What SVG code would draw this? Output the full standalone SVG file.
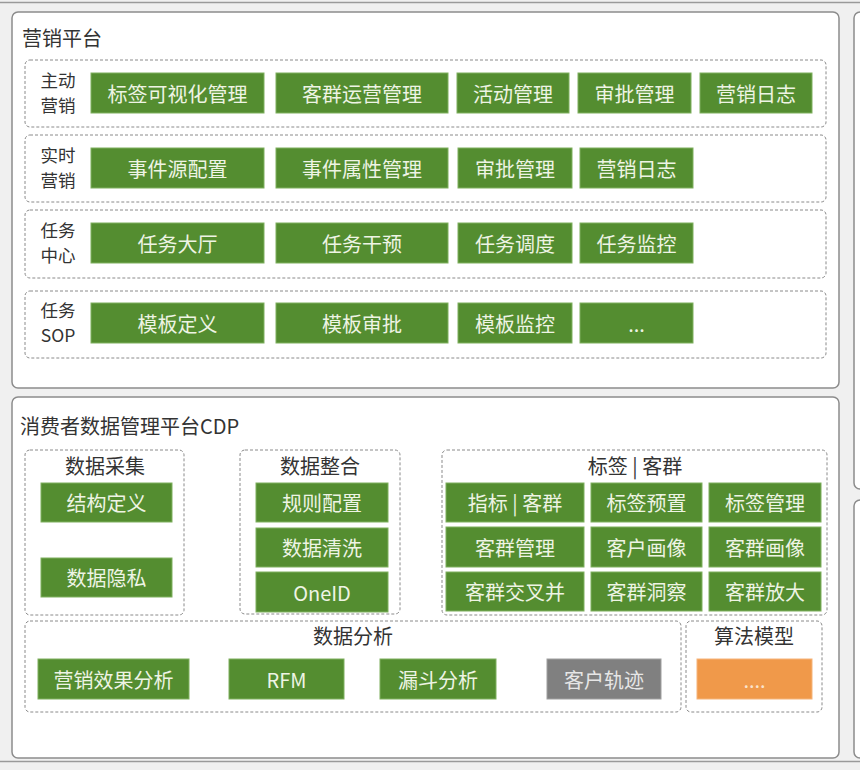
<svg xmlns="http://www.w3.org/2000/svg" width="860" height="770" viewBox="0 0 860 770">
<defs>
<style>
text{font-family:"Microsoft YaHei","Noto Sans CJK SC","Noto Sans",sans-serif;}
.panel{fill:#fff;stroke:#8c8c8c;stroke-width:1.5;}
.dash{fill:#fff;stroke:#8a8a8a;stroke-width:1;stroke-dasharray:3 2;}
.g{fill:#548d30;stroke:#7fb05e;stroke-width:1;}
.gr{fill:#808080;stroke:#a0a0a0;stroke-width:1;}
.or{fill:#f0994a;stroke:#f5b47a;stroke-width:1;}
.bt{fill:#eef4e4;font-size:20px;text-anchor:middle;dominant-baseline:central;}
.lb{fill:#333;font-size:20px;text-anchor:middle;dominant-baseline:central;}
.rl{fill:#333;font-size:17.5px;text-anchor:middle;}
.tt{fill:#333;font-size:20px;dominant-baseline:central;}
</style>
</defs>
<rect x="0" y="0" width="860" height="770" fill="#f0f0f0"/>
<line x1="0" y1="2.5" x2="860" y2="2.5" stroke="#9a9a9a" stroke-width="1.5"/>
<line x1="0" y1="761.5" x2="860" y2="761.5" stroke="#9a9a9a" stroke-width="1.5"/>
<rect class="panel" x="854" y="12" width="20" height="477" rx="6"/>
<rect class="panel" x="854" y="500" width="20" height="258" rx="6"/>

<g id="marketing-platform">
<rect class="panel" x="12" y="12" width="827" height="376" rx="6"/>
<text class="tt" x="22" y="37">营销平台</text>
</g>

<g id="row-active">
<rect class="dash" x="25" y="60" width="801" height="67" rx="5"/>
<text class="rl" x="58" y="86.5">主动<tspan x="58" dy="25.5">营销</tspan></text>
</g>
<g id="n-tag-vis"><rect class="g" x="91" y="73" width="173" height="40"/><text class="bt" x="177.5" y="93">标签可视化管理</text></g>
<g id="n-group-ops"><rect class="g" x="276" y="73" width="172" height="40"/><text class="bt" x="362" y="93">客群运营管理</text></g>
<g id="n-activity"><rect class="g" x="457" y="73" width="112" height="40"/><text class="bt" x="513" y="93">活动管理</text></g>
<g id="n-approve1"><rect class="g" x="578" y="73" width="113" height="40"/><text class="bt" x="634.5" y="93">审批管理</text></g>
<g id="n-log1"><rect class="g" x="700" y="73" width="112" height="40"/><text class="bt" x="756" y="93">营销日志</text></g>

<g id="row-realtime">
<rect class="dash" x="25" y="135" width="801" height="67" rx="5"/>
<text class="rl" x="58" y="161.5">实时<tspan x="58" dy="25.5">营销</tspan></text>
</g>
<g id="n-event-src"><rect class="g" x="91" y="148" width="173" height="40"/><text class="bt" x="177.5" y="168">事件源配置</text></g>
<g id="n-event-attr"><rect class="g" x="276" y="148" width="172" height="40"/><text class="bt" x="362" y="168">事件属性管理</text></g>
<g id="n-approve2"><rect class="g" x="458" y="148" width="114" height="40"/><text class="bt" x="515" y="168">审批管理</text></g>
<g id="n-log2"><rect class="g" x="580" y="148" width="113" height="40"/><text class="bt" x="636.5" y="168">营销日志</text></g>

<g id="row-task">
<rect class="dash" x="25" y="210" width="801" height="68" rx="5"/>
<text class="rl" x="58" y="236.5">任务<tspan x="58" dy="25.5">中心</tspan></text>
</g>
<g id="n-task-hall"><rect class="g" x="91" y="223" width="173" height="40"/><text class="bt" x="177.5" y="243">任务大厅</text></g>
<g id="n-task-intervene"><rect class="g" x="276" y="223" width="172" height="40"/><text class="bt" x="362" y="243">任务干预</text></g>
<g id="n-task-sched"><rect class="g" x="458" y="223" width="114" height="40"/><text class="bt" x="515" y="243">任务调度</text></g>
<g id="n-task-mon"><rect class="g" x="580" y="223" width="113" height="40"/><text class="bt" x="636.5" y="243">任务监控</text></g>

<g id="row-sop">
<rect class="dash" x="25" y="291" width="801" height="67" rx="5"/>
<text class="rl" x="58" y="316.5">任务<tspan x="58" dy="25.5">SOP</tspan></text>
</g>
<g id="n-tpl-def"><rect class="g" x="91" y="303" width="173" height="40"/><text class="bt" x="177.5" y="323">模板定义</text></g>
<g id="n-tpl-approve"><rect class="g" x="276" y="303" width="172" height="40"/><text class="bt" x="362" y="323">模板审批</text></g>
<g id="n-tpl-mon"><rect class="g" x="458" y="303" width="114" height="40"/><text class="bt" x="515" y="323">模板监控</text></g>
<g id="n-tpl-more"><rect class="g" x="580" y="303" width="113" height="40"/><text class="bt" x="636.5" y="323">...</text></g>

<g id="cdp-platform">
<rect class="panel" x="12" y="397" width="827" height="361" rx="6"/>
<text class="tt" x="20" y="425">消费者数据管理平台CDP</text>
</g>

<g id="grp-collect">
<rect class="dash" x="25" y="450" width="159" height="165" rx="5"/>
<text class="lb" x="105" y="465">数据采集</text>
</g>
<g id="n-struct"><rect class="g" x="41" y="483" width="131" height="39"/><text class="bt" x="106.5" y="502.5">结构定义</text></g>
<g id="n-privacy"><rect class="g" x="41" y="558" width="131" height="39"/><text class="bt" x="106.5" y="577.5">数据隐私</text></g>

<g id="grp-integrate">
<rect class="dash" x="240" y="450" width="160" height="164" rx="5"/>
<text class="lb" x="320" y="465">数据整合</text>
</g>
<g id="n-rule"><rect class="g" x="256" y="483" width="132" height="39"/><text class="bt" x="322" y="502.5">规则配置</text></g>
<g id="n-clean"><rect class="g" x="256" y="528" width="132" height="39"/><text class="bt" x="322" y="547.5">数据清洗</text></g>
<g id="n-oneid"><rect class="g" x="256" y="572" width="132" height="40"/><text class="bt" x="322" y="592">OneID</text></g>

<g id="grp-tag">
<rect class="dash" x="442" y="450" width="385" height="165" rx="5"/>
<text class="lb" x="635" y="465">标签 | 客群</text>
</g>
<g id="n-metric"><rect class="g" x="446" y="483" width="138" height="39"/><text class="bt" x="515" y="502.5">指标 | 客群</text></g>
<g id="n-tag-preset"><rect class="g" x="591" y="483" width="111" height="39"/><text class="bt" x="646.5" y="502.5">标签预置</text></g>
<g id="n-tag-mgmt"><rect class="g" x="709" y="483" width="112" height="39"/><text class="bt" x="765" y="502.5">标签管理</text></g>
<g id="n-group-mgmt"><rect class="g" x="446" y="527" width="138" height="40"/><text class="bt" x="515" y="547">客群管理</text></g>
<g id="n-cust-portrait"><rect class="g" x="591" y="527" width="111" height="40"/><text class="bt" x="646.5" y="547">客户画像</text></g>
<g id="n-group-portrait"><rect class="g" x="709" y="527" width="112" height="40"/><text class="bt" x="765" y="547">客群画像</text></g>
<g id="n-group-cross"><rect class="g" x="446" y="572" width="138" height="39"/><text class="bt" x="515" y="591.5">客群交叉并</text></g>
<g id="n-group-insight"><rect class="g" x="591" y="572" width="111" height="39"/><text class="bt" x="646.5" y="591.5">客群洞察</text></g>
<g id="n-group-expand"><rect class="g" x="709" y="572" width="112" height="39"/><text class="bt" x="765" y="591.5">客群放大</text></g>

<g id="grp-analysis">
<rect class="dash" x="25" y="621" width="656" height="91" rx="5"/>
<text class="lb" x="353" y="635">数据分析</text>
</g>
<g id="n-effect"><rect class="g" x="38" y="659" width="151" height="40"/><text class="bt" x="113.5" y="679">营销效果分析</text></g>
<g id="n-rfm"><rect class="g" x="229" y="659" width="115" height="40"/><text class="bt" x="286.5" y="679">RFM</text></g>
<g id="n-funnel"><rect class="g" x="380" y="659" width="116" height="40"/><text class="bt" x="438" y="679">漏斗分析</text></g>
<g id="n-track"><rect class="gr" x="547" y="659" width="114" height="40"/><text class="bt" x="604" y="679" style="fill:#e6e6e6">客户轨迹</text></g>

<g id="grp-algo">
<rect class="dash" x="686" y="621" width="136" height="91" rx="5"/>
<text class="lb" x="754" y="635">算法模型</text>
</g>
<g id="n-algo-more"><rect class="or" x="697" y="659" width="115" height="40"/><text class="bt" x="754.5" y="679" style="fill:#fbe3cc">....</text></g>

<g id="connectors"></g>
</svg>
